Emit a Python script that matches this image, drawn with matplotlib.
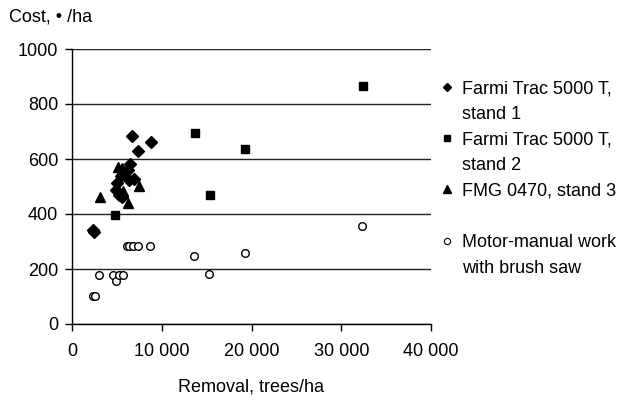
import numpy as np
import matplotlib
matplotlib.use("Agg")
import matplotlib.pyplot as plt
from matplotlib.lines import Line2D
from matplotlib.ticker import FuncFormatter

plt.rcParams['font.family'] = ['Liberation Sans', 'DejaVu Sans']

# Farmi Trac 5000 T, stand 1
stand1_x = [2300, 2450, 6650, 8770, 7350, 6460, 6280, 5460, 6390, 6950, 4980, 4870, 5530, 5270]
stand1_y = [342, 336, 685, 661, 629, 582, 560, 539, 524, 527, 512, 487, 463, 469]

# Farmi Trac 5000 T, stand 2
stand2_x = [4790, 13700, 15380, 19280, 32390]
stand2_y = [396, 695, 470, 635, 867]

# FMG 0470, stand 3
stand3_x = [3120, 5090, 5530, 7500, 5720, 6280]
stand3_y = [463, 570, 566, 502, 484, 439]

# Motor-manual work with brush saw
manual_x = [2300, 2520, 3050, 4600, 4870, 5270, 5720, 6090, 6390, 6830, 7390, 8690,
            13630, 15300, 19240, 32350]
manual_y = [102, 102, 178, 178, 158, 178, 178, 283, 283, 283, 283, 283,
            247, 183, 259, 355]

labels = ["Farmi Trac 5000 T,", "stand 1",
          "Farmi Trac 5000 T,", "stand 2",
          "FMG 0470, stand 3", " ",
          "Motor-manual work", "with brush saw"]

fs = 13

fig = plt.figure(figsize=(6.33, 4.0), dpi=100)
ax = fig.add_axes([72/633, 1 - 324/400, (431 - 72)/633, (324 - 49)/400])

ax.plot(stand1_x, stand1_y, 'D', color='black', ms=6.3, ls='none', zorder=3)
ax.plot(stand2_x, stand2_y, 's', color='black', ms=6.2, ls='none', zorder=3)
ax.plot(stand3_x, stand3_y, '^', color='black', ms=7.5, ls='none', zorder=3)
ax.plot(manual_x, manual_y, 'o', mfc='white', mec='black', mew=1.0, ms=5.5, ls='none', zorder=3)

ax.set_xlim(0, 40000)
ax.set_ylim(0, 1000)
ax.set_xticks(np.arange(0, 40001, 10000))
ax.set_yticks(np.arange(0, 1001, 200))
ax.xaxis.set_major_formatter(FuncFormatter(lambda v, p: f"{int(v):,}".replace(",", " ")))
ax.tick_params(direction='out', length=5, width=1, labelsize=fs, colors='black')
ax.tick_params(axis='x', pad=9)
ax.tick_params(axis='y', pad=5)

ax.yaxis.grid(True, color='#222222', lw=1)
ax.set_axisbelow(True)
for s in ['top', 'right']:
    ax.spines[s].set_visible(False)
for s in ['left', 'bottom']:
    ax.spines[s].set_linewidth(1)

ax.set_xlabel("Removal, trees/ha", fontsize=fs, labelpad=13)
fig.text(9/633, 1 - 17/400, "Cost, • /ha", fontsize=fs, ha='left', va='center')

blank = Line2D([], [], ls='none', marker=None)
handles = [Line2D([], [], marker='D', color='black', ms=4, ls='none'), blank,
           Line2D([], [], marker='s', color='black', ms=5, ls='none'), blank,
           Line2D([], [], marker='^', color='black', ms=5.5, ls='none'), blank,
           Line2D([], [], marker='o', mfc='white', mec='black', mew=0.8, ms=4.5, ls='none'), blank]
fig.legend(handles, labels, loc='upper left', bbox_to_anchor=(441/633, 1 - 80/400),
           frameon=False, fontsize=fs, handlelength=0.7, handletextpad=0.45,
           labelspacing=0.48, borderpad=0, borderaxespad=0)

fig.savefig("out.png", dpi=100)
